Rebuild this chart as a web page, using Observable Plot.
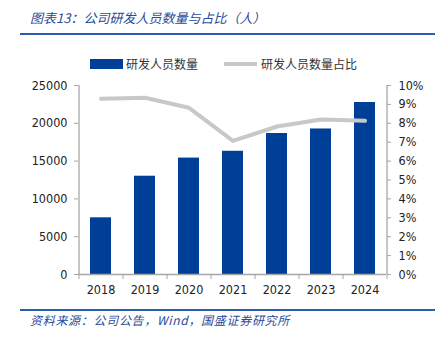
<!DOCTYPE html>
<html><head><meta charset="utf-8">
<script src="https://cdn.jsdelivr.net/npm/d3@7"></script>
<script src="https://cdn.jsdelivr.net/npm/@observablehq/plot@0.6"></script>
<style>
body{margin:0;width:441px;height:339px;position:relative;background:#fff;font-family:"DejaVu Sans",sans-serif;overflow:hidden}
.title{position:absolute;left:30px;top:8px;font:italic 13px "Noto Sans CJK SC",sans-serif;color:#2a4a9a;white-space:nowrap}
.hr{position:absolute;left:20px;width:415px;height:2px;background:#2a5db0}
.caption{position:absolute;left:30px;top:311px;font:italic 12px "Noto Sans CJK SC",sans-serif;letter-spacing:0.7px;color:#2a4a9a;white-space:nowrap}
.legend{position:absolute;top:55px;font:12px "Noto Sans CJK SC",sans-serif;color:#333;white-space:nowrap;display:flex;align-items:center}
#chart{position:absolute;left:0;top:75px}
</style></head>
<body>
<div class="title">图表13：公司研发人员数量与占比（人）</div>
<div class="hr" style="top:33px"></div>
<div class="legend" style="left:90px"><span style="display:inline-block;width:33px;height:10px;background:#003f98;margin-right:3px"></span>研发人员数量</div>
<div class="legend" style="left:224px"><span style="display:inline-block;width:33px;height:4px;background:#c8c8c8;margin-right:4px"></span>研发人员数量占比</div>
<div id="chart"></div>
<div class="hr" style="top:309px"></div>
<div class="caption">资料来源：公司公告，Wind，国盛证券研究所</div>
<script>
const years = ["2018","2019","2020","2021","2022","2023","2024"];
const staff = [7500, 13000, 15400, 16300, 18650, 19250, 22750];
const share = [9.30, 9.35, 8.82, 7.07, 7.83, 8.20, 8.13]; // %
const leftTicks = [0, 5000, 10000, 15000, 20000, 25000];
const rightTicks = [0,1,2,3,4,5,6,7,8,9,10];

const SCALE = 25000 / 10; // % -> left-axis units
const data = years.map((y, i) => ({year: y, staff: staff[i], share: share[i] * SCALE}));
const W = 441, ML = 78, MR = 55;
const step = (W - ML - MR) / years.length;
const axisColor = "#a6a6a6";
const tickFont = "DejaVu Sans Condensed, DejaVu Sans, sans-serif";

const chart = Plot.plot({
  width: W, height: 230,
  marginLeft: ML, marginRight: MR, marginTop: 10, marginBottom: 31,
  style: {fontFamily: tickFont, fontSize: "12px", color: "#222", background: "transparent"},
  x: {type: "band", domain: years, paddingInner: 0.53, paddingOuter: 0.265, label: null},
  y: {domain: [0, 25000], label: null},
  marks: [
    Plot.barY(data, {x: "year", y: "staff", fill: "#003f98"}),
    Plot.line(data, {x: "year", y: "share", stroke: "#c8c8c8", strokeWidth: 4}),
    Plot.ruleY([0], {stroke: axisColor, strokeWidth: 1.3}),
    Plot.ruleX([years[0]], {dx: -step / 2, stroke: axisColor, strokeWidth: 1.3}),
    Plot.ruleX([years[years.length - 1]], {dx: step / 2, stroke: axisColor, strokeWidth: 1.3}),
    Plot.ruleX(years, {x: d => d, y1: 0, y2: 0, insetBottom: -5, dx: -step / 2, stroke: axisColor}),
    Plot.ruleX([years[years.length - 1]], {y1: 0, y2: 0, insetBottom: -5, dx: step / 2, stroke: axisColor}),
    Plot.axisX({tickSize: 0, tickPadding: 11, fontSize: 12.5}),
    Plot.axisY({anchor: "left", ticks: leftTicks, tickSize: 4, tickPadding: 7, stroke: axisColor, fontSize: 12.5, tickFormat: d => String(d)}),
    Plot.axisY({anchor: "right", ticks: rightTicks.map(v => v * SCALE), tickSize: 4, tickPadding: 8, stroke: axisColor, fontSize: 12.5, tickFormat: d => Math.round(d / SCALE) + "%"})
  ]
});
document.getElementById("chart").appendChild(chart);
</script>
</body></html>
